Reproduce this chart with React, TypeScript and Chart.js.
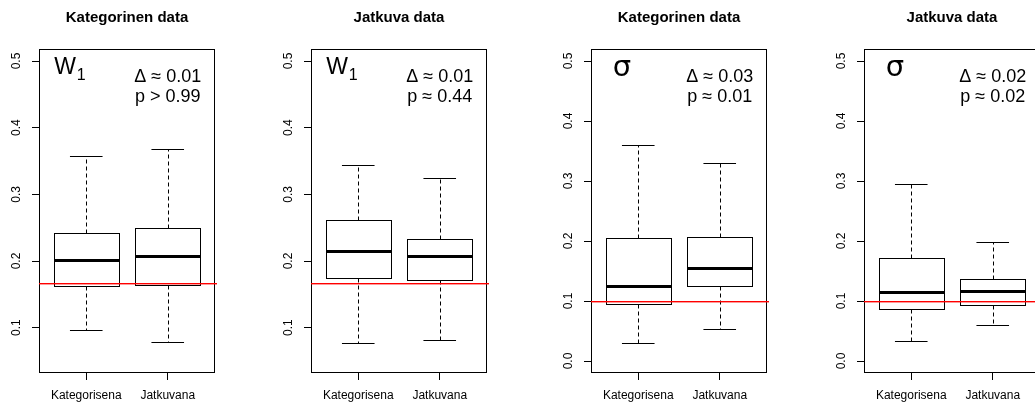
import React, { useEffect, useRef } from "react";
import { Chart, registerables } from "chart.js";

Chart.register(...registerables);

// ---------- data ----------
const categories = ["Kategorisena", "Jatkuvana"];
const panelTitles = ["Kategorinen data", "Jatkuva data", "Kategorinen data", "Jatkuva data"];

// panel 1: W1, categorical data
const p1Min = [0.0965, 0.079];
const p1Q1 = [0.1625, 0.1645];
const p1Median = [0.202, 0.2075];
const p1Q3 = [0.2415, 0.25];
const p1Max = [0.357, 0.368];

// panel 2: W1, continuous data
const p2Min = [0.0765, 0.082];
const p2Q1 = [0.175, 0.1715];
const p2Median = [0.2155, 0.2075];
const p2Q3 = [0.2615, 0.2335];
const p2Max = [0.344, 0.3245];

// panel 3: sigma, categorical data
const p3Min = [0.0305, 0.053];
const p3Q1 = [0.0945, 0.125];
const p3Median = [0.1255, 0.1555];
const p3Q3 = [0.2055, 0.207];
const p3Max = [0.3605, 0.3305];

// panel 4: sigma, continuous data
const p4Min = [0.033, 0.0605];
const p4Q1 = [0.086, 0.0935];
const p4Median = [0.1145, 0.1165];
const p4Q3 = [0.172, 0.1365];
const p4Max = [0.2955, 0.1985];

const referenceValues = [0.1667, 0.1667, 0.1, 0.1];
const yLower = [0.032, 0.032, -0.02, -0.02];
const yUpper = [0.518, 0.518, 0.52, 0.52];
const yTicksW = [0.1, 0.2, 0.3, 0.4, 0.5];
const yTicksSigma = [0.0, 0.1, 0.2, 0.3, 0.4, 0.5];
const xTickValues = [1, 2];

const symbols = ["W", "W", "σ", "σ"];
const subscripts = ["1", "1", "", ""];
const deltaValues = ["0.01", "0.01", "0.03", "0.02"];
const pRelations = [">", "≈", "≈", "≈"];
const pValues = ["0.99", "0.44", "0.01", "0.02"];

// ---------- styling ----------
const FONT = "'Liberation Sans', Arial, Helvetica, sans-serif";
const PANEL_LEFTS = [0, 272, 552, 825];
const CANVAS_W = 220;
const CANVAS_H = 405;
const BOX_HALF = 0.4;
const STAPLE_HALF = 0.2;
const SYMBOL_X = 0.8;
const REF_COLOR = "#ff0000";

const panelStats = [
  [p1Min, p1Q1, p1Median, p1Q3, p1Max],
  [p2Min, p2Q1, p2Median, p2Q3, p2Max],
  [p3Min, p3Q1, p3Median, p3Q3, p3Max],
  [p4Min, p4Q1, p4Median, p4Q3, p4Max],
];
const panelYTicks = [yTicksW, yTicksW, yTicksSigma, yTicksSigma];

const boxPlotExtras = {
  id: "boxPlotExtras",
  afterDatasetsDraw(chart: any, _args: any, opts: any) {
    const { ctx, chartArea: a } = chart;
    const x = chart.scales.x;
    const y = chart.scales.y;
    const crisp = (v: number) => Math.round(v) + 0.5;
    const [mins, q1s, meds, q3s, maxs] = opts.stats;
    ctx.save();
    ctx.strokeStyle = "#000000";
    categories.forEach((_c, i) => {
      const v = xTickValues[i];
      const cx = crisp(x.getPixelForValue(v));
      const bl = crisp(x.getPixelForValue(v - BOX_HALF));
      const br = crisp(x.getPixelForValue(v + BOX_HALF));
      const sl = x.getPixelForValue(v - STAPLE_HALF);
      const sr = x.getPixelForValue(v + STAPLE_HALF);
      const pMin = crisp(y.getPixelForValue(mins[i]));
      const pQ1 = crisp(y.getPixelForValue(q1s[i]));
      const pMed = Math.round(y.getPixelForValue(meds[i])) + 0.5;
      const pQ3 = crisp(y.getPixelForValue(q3s[i]));
      const pMax = crisp(y.getPixelForValue(maxs[i]));
      // whiskers
      ctx.lineWidth = 1;
      ctx.setLineDash([4, 3]);
      ctx.beginPath();
      ctx.moveTo(cx, pQ3);
      ctx.lineTo(cx, pMax);
      ctx.moveTo(cx, pQ1);
      ctx.lineTo(cx, pMin);
      ctx.stroke();
      ctx.setLineDash([]);
      // staples
      ctx.beginPath();
      ctx.moveTo(sl, pMax);
      ctx.lineTo(sr, pMax);
      ctx.moveTo(sl, pMin);
      ctx.lineTo(sr, pMin);
      ctx.stroke();
      // box outline
      ctx.strokeRect(bl, pQ3, br - bl, pQ1 - pQ3);
      // median
      ctx.lineWidth = 3;
      ctx.beginPath();
      ctx.moveTo(bl, pMed);
      ctx.lineTo(br, pMed);
      ctx.stroke();
    });
    // frame
    ctx.lineWidth = 1;
    ctx.strokeStyle = "#000000";
    ctx.strokeRect(a.left + 0.5, a.top + 0.5, a.right - a.left - 1, a.bottom - a.top - 1);
    // reference line (drawn last, slightly past the frame like R's abline)
    const pr = y.getPixelForValue(opts.reference);
    ctx.fillStyle = REF_COLOR;
    ctx.fillRect(a.left, Math.round(pr), a.right - a.left + 2, 1.4);

    // annotations
    ctx.fillStyle = "#000000";
    ctx.textBaseline = "alphabetic";
    ctx.textAlign = "left";
    const isGreek = opts.symbol === "σ";
    const symFont = isGreek ? "29px 'DejaVu Sans', sans-serif" : `23px ${FONT}`;
    ctx.font = symFont;
    const symW = ctx.measureText(opts.symbol).width;
    ctx.font = `16px ${FONT}`;
    const subW = opts.subscript ? ctx.measureText(opts.subscript).width + 1 : 0;
    const sx = x.getPixelForValue(SYMBOL_X) - (symW + subW) / 2;
    ctx.font = symFont;
    ctx.fillText(opts.symbol, sx, a.top + (isGreek ? 27 : 25));
    if (opts.subscript) {
      ctx.font = `16px ${FONT}`;
      ctx.fillText(opts.subscript, sx + symW + 1, a.top + 31);
    }
    ctx.font = `18px ${FONT}`;
    ctx.textAlign = "center";
    const tx = x.getPixelForValue(2);
    ctx.fillText(`Δ ≈ ${opts.delta}`, tx, a.top + 32.5);
    ctx.fillText(`p ${opts.relation} ${opts.p}`, tx, a.top + 52.5);
    ctx.restore();
  },
};

function Panel({ index }: { index: number }) {
  const ref = useRef<HTMLCanvasElement | null>(null);
  useEffect(() => {
    if (!ref.current) return;
    const [mins, q1s, meds, q3s, maxs] = panelStats[index];
    const chart = new Chart(ref.current, {
      type: "bar",
      data: {
        datasets: [
          {
            data: categories.map((_c, i) => ({ x: xTickValues[i], y: [q1s[i], q3s[i]] })),
            backgroundColor: "#ffffff",
            borderColor: "#000000",
            borderWidth: 0,
            borderSkipped: false,
            barPercentage: 0.8,
            categoryPercentage: 1,
          } as any,
        ],
      },
      options: {
        animation: false,
        responsive: false,
        events: [],
        layout: { padding: { left: 0, right: 5, top: 0, bottom: 0 } },
        plugins: {
          legend: { display: false },
          tooltip: { enabled: false },
          title: {
            display: true,
            text: panelTitles[index],
            fullSize: false,
            color: "#000",
            font: { family: FONT, size: 15, weight: "bold" },
            padding: { top: 9, bottom: 22 },
          },
          boxPlotExtras: {
            stats: [mins, q1s, meds, q3s, maxs],
            reference: referenceValues[index],
            symbol: symbols[index],
            subscript: subscripts[index],
            delta: deltaValues[index],
            relation: pRelations[index],
            p: pValues[index],
          },
        } as any,
        scales: {
          x: {
            type: "linear",
            min: 0.42,
            max: 2.58,
            offset: false,
            afterBuildTicks: (s: any) => {
              s.ticks = xTickValues.map((v) => ({ value: v }));
            },
            afterFit: (s: any) => {
              s.height = 32;
            },
            ticks: {
              callback: (v: any) => categories[xTickValues.indexOf(Number(v))] ?? "",
              color: "#000",
              font: { family: FONT, size: 12 },
              padding: 8.5,
              autoSkip: false,
              maxRotation: 0,
              minRotation: 0,
            },
            grid: { display: true, drawOnChartArea: false, drawTicks: true, tickLength: 7, color: "#000", offset: false },
            border: { display: false },
          },
          y: {
            type: "linear",
            min: yLower[index],
            max: yUpper[index],
            beginAtZero: false,
            afterBuildTicks: (s: any) => {
              s.ticks = panelYTicks[index].map((v) => ({ value: v }));
            },
            afterFit: (s: any) => {
              s.width = 39;
            },
            ticks: {
              callback: (v: any) => Number(v).toFixed(1),
              color: "#000",
              font: { family: FONT, size: 12 },
              minRotation: 90,
              maxRotation: 90,
              crossAlign: "center",
              padding: 6.7,
              autoSkip: false,
            },
            grid: { display: true, drawOnChartArea: false, drawTicks: true, tickLength: 7, color: "#000" },
            border: { display: false },
          },
        },
      } as any,
      plugins: [boxPlotExtras as any],
    });
    return () => chart.destroy();
  }, [index]);
  return (
    <canvas
      ref={ref}
      width={CANVAS_W}
      height={CANVAS_H}
      style={{ position: "absolute", left: PANEL_LEFTS[index], top: 0, width: CANVAS_W, height: CANVAS_H }}
    />
  );
}

export default function App() {
  return (
    <div
      style={{
        position: "fixed",
        left: 0,
        top: 0,
        width: 1035,
        height: 405,
        overflow: "hidden",
        background: "#ffffff",
      }}
    >
      {panelTitles.map((_t, i) => (
        <Panel key={i} index={i} />
      ))}
    </div>
  );
}
